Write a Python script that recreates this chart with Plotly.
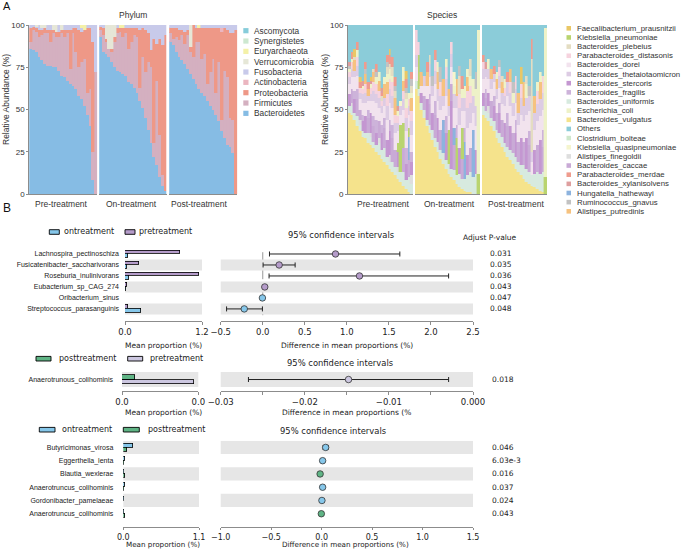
import plotly.graph_objects as go

W, H = 686, 549
def px(x): return x / W
def py(y): return 1 - y / H

# ============================ DATA =====================================
facet_names = ["Pre-treatment", "On-treatment", "Post-treatment"]
sample_idx = list(range(1, 25))  # 24 samples per facet

# ---- Phylum relative abundance (%): Pre(24) + On(24) + Post(24)
phy_bacteroidetes = ([86,85,84,81,79,77,76,76,75,75,73,70,69,67,65,64,62,58,56,52,47,40,8,0]
                     + [93,84,83,81,78,75,73,72,71,70,66,65,63,60,55,51,45,38,30,22,17,10,5,2]
                     + [90,88,84,81,79,77,74,71,68,65,62,60,58,55,52,50,47,43,37,33,29,28,24,0])
phy_firmicutes = ([4,12,12,12,15,18,19,14,20,18,20,25,24,28,9,31,22,17,22,28,13,22,17,72]
                  + [4,10,7,5,6,15,22,24,22,25,20,25,31,33,8,30,27,40,45,8,50,25,6,0]
                  + [5,4,9,10,15,12,20,13,13,25,28,20,25,10,20,30,13,35,7,40,40,17,20,0])
phy_proteobacteria = ([8,2,2,4,3,3,2,7,2,3,3,2,4,2,23,3,14,22,18,17,38,36,65,0]
                      + [2,4,2,0,2,3,3,2,5,3,12,8,4,5,34,17,25,17,10,62,22,57,77,92]
                      + [3,6,5,6,3,7,3,3,19,8,8,18,15,33,26,18,38,20,52,25,28,50,51,97])
phy_actinobacteria = ([0,0,0,0,0,0,0,0,0,0,0,0,0,0,0,0,0,0,0,0,0,0,0,0]
                      + [0,0,0,0,0,0,0,0,0,0,0,0,0,0,0,0,0,0,0,0,0,0,0,0]
                      + [0,0,0,0,0,0,0,0,0,0,0,0,0,0,0,0,0,0,2,0,0,0,0,0])
phy_fusobacteria = ([2,1,1,3,1,0,3,3,0,0,4,0,3,3,3,2,2,3,2,0,2,2,10,28]
                    + [1,2,0,0,0,0,2,0,0,2,2,2,2,2,3,2,3,5,15,8,11,8,12,6]
                    + [2,2,2,3,3,4,3,0,0,2,0,2,2,2,2,2,2,2,2,2,3,5,5,3])
phy_verrucomicrobia = ([0,0,1,0,2,2,0,0,3,4,0,3,0,0,0,0,0,0,0,0,0,0,0,0]
                       + [0,0,8,14,14,7,0,0,0,0,0,0,0,0,0,0,0,0,0,0,0,0,0,0]
                       + [0,0,0,0,0,0,0,13,0,0,0,0,0,0,0,0,0,0,0,0,0,0,0,0])
phy_euryarchaeota = ([0,0,0,0,0,0,0,0,0,0,0,0,0,0,0,0,0,0,2,3,0,0,0,0]
                     + [0,0,0,0,0,0,0,2,2,0,0,0,0,0,0,0,0,0,0,0,0,0,0,0]
                     + [0,0,0,0,0,0,0,0,0,0,2,0,0,0,0,0,0,0,0,0,0,0,0,0])
phy_synergistetes = [0] * 72
phy_ascomycota = [0] * 72

# ---- Species relative abundance (%): Pre(24) + On(24) + Post(24)
sp_vulgatus = ([48,47,44,40,37,34,33,30,29,27,25,23,21,19,17,15,13,11,9,7,5,3,1,0]
               + [62,58,50,45,40,36,32,28,25,21,18,15,12,10,8,6,4,3,2,1,1,0,0,0]
               + [47,45,43,40,37,33,30,28,25,22,20,18,15,13,11,9,7,6,5,4,3,2,1,0])
sp_uniformis = ([4,5,4,6,4,3,3,6,5,4,4,7,5,8,5,4,6,5,4,6,8,5,9,6]
                + [5,4,4,5,4,5,6,5,6,5,6,5,6,5,6,5,8,6,7,10,12,10,12,0]
                + [5,4,5,5,6,5,6,6,5,6,6,6,7,6,6,8,8,7,6,8,10,10,12,0])
sp_finegoldii = ([0,2,0,0,3,0,0,0,2,0,0,3,0,0,0,4,0,0,3,0,0,0,0,5]
                 + [0,0,0,0,0,0,0,0,0,0,0,0,0,0,0,0,0,0,0,0,0,0,0,0]
                 + [0,0,4,0,0,0,0,0,0,0,0,0,0,0,0,0,0,0,0,0,0,0,0,0])
sp_stercoris = ([7,0,8,0,0,6,10,0,12,0,7,0,10,0,10,14,0,0,9,0,0,10,0,8]
                + [0,0,6,0,12,0,10,0,14,0,0,16,0,40,0,0,15,0,0,12,0,0,14,0]
                + [8,0,8,0,9,0,12,0,12,0,14,0,14,0,16,0,18,0,0,14,0,20,0,0])
sp_caccae = ([0,8,0,10,6,0,0,9,0,9,0,10,0,12,0,0,14,10,0,0,14,0,10,0]
             + [0,0,0,8,0,12,0,14,0,12,0,0,0,10,15,0,0,12,0,0,14,0,0,0]
             + [0,8,0,10,0,10,0,10,0,12,0,12,0,12,0,14,0,16,0,0,16,0,15,0])
sp_hathewayi = ([0,0,0,0,0,0,0,0,0,0,0,0,0,0,0,0,0,0,0,0,0,0,14,0]
                + [0,0,0,0,0,0,0,0,0,0,20,0,0,0,10,0,0,0,22,0,0,28,0,0]
                + [0,0,0,0,0,0,0,0,0,0,0,0,0,0,0,0,0,0,0,0,0,0,0,0])
sp_kpneumoniae = ([0,0,0,0,0,0,0,0,0,0,0,0,0,0,0,0,0,0,5,28,15,0,5,0]
                  + [0,20,0,0,0,0,0,0,0,0,0,0,20,0,0,22,0,18,0,0,0,0,0,12]
                  + [0,0,0,0,0,0,0,0,0,0,0,0,0,0,0,0,0,0,0,0,0,0,0,10])
sp_fragilis = ([0,0,5,6,0,4,0,5,0,6,8,0,5,6,0,7,8,0,0,0,0,9,0,6]
               + [0,0,0,0,0,6,0,8,0,0,0,10,0,0,0,8,0,0,8,0,0,0,0,0]
               + [0,5,0,0,6,0,6,0,0,8,0,0,8,0,0,0,0,8,0,0,0,0,10,0])
sp_dorei = ([6,7,8,8,6,7,8,5,7,9,10,8,7,7,12,10,10,10,7,6,8,10,8,10]
            + [8,0,4,6,8,10,10,10,10,12,8,12,8,10,12,10,14,10,10,16,15,10,14,0]
            + [8,7,8,7,8,8,9,9,10,10,12,10,10,10,14,12,14,12,8,12,14,14,12,0])
sp_theta = ([4,5,4,6,4,5,6,3,4,6,5,6,4,5,8,8,7,6,5,5,6,8,5,8]
            + [7,0,0,6,0,8,6,8,7,8,6,10,6,8,8,7,10,8,8,12,12,10,12,0]
            + [6,5,6,6,5,6,7,7,6,8,8,8,8,7,10,9,10,9,6,10,10,10,10,0])
sp_distasonis = ([3,4,0,5,3,3,5,0,4,5,6,4,3,0,7,6,8,5,4,0,5,6,4,6]
                 + [15,8,0,0,0,0,0,6,0,8,0,7,0,7,0,0,8,0,0,10,10,0,0,0]
                 + [4,0,0,0,0,0,5,0,5,0,6,0,8,0,8,0,0,0,0,0,8,0,10,0])
sp_putredinis = ([0,0,6,0,0,0,6,4,0,6,0,6,0,8,7,0,0,10,0,0,6,0,0,8]
                 + [0,0,8,0,8,0,0,0,10,0,10,0,10,0,0,10,0,0,0,8,0,0,0,0]
                 + [0,0,0,6,0,6,0,6,0,0,8,0,0,12,0,14,0,0,0,10,0,10,0,0])
sp_ecoli = ([2,2,0,4,0,2,0,0,2,0,4,5,0,4,5,6,4,0,3,0,8,5,4,3]
            + [0,0,0,0,0,0,0,0,6,0,0,5,0,0,5,0,0,5,7,5,6,10,10,85]
            + [0,0,6,0,0,4,0,0,5,0,0,6,0,0,0,0,8,0,0,0,5,6,0,88])
sp_plebeius = ([0,0,2,0,0,0,0,0,0,2,0,0,3,0,4,3,5,4,0,0,0,4,0,4]
               + [0,0,0,0,0,5,0,0,0,0,0,0,0,0,0,0,11,0,0,0,10,0,0,0]
               + [0,0,0,0,0,0,0,4,0,0,0,0,0,0,0,0,5,0,55,0,0,0,0,0])
sp_gnavus = ([2,0,0,0,0,0,3,0,0,0,3,0,0,0,3,0,0,3,0,0,0,3,0,4]
             + [0,0,0,0,0,0,6,0,0,9,0,0,0,0,0,0,6,0,0,0,0,0,10,0]
             + [0,0,0,0,0,0,4,0,0,0,0,6,0,0,0,0,0,6,0,0,0,0,0,0])
sp_bolteae = [0] * 72
sp_kquasi = ([0,0,0,0,0,0,0,0,0,0,0,0,0,0,0,0,0,0,0,3,0,0,0,0]
             + [0,0,0,0,0,0,0,0,0,0,0,0,0,0,8,0,0,0,0,0,0,0,0,0]
             + [0,0,0,0,0,0,0,0,0,0,0,0,0,0,0,0,0,0,0,0,0,0,0,0])
sp_merdae = ([0,4,0,5,3,0,4,4,0,0,5,0,2,0,4,5,6,5,0,0,0,5,0,4]
             + [0,0,0,0,6,0,0,6,0,0,0,0,0,0,0,0,0,8,0,0,0,0,0,0]
             + [4,0,0,0,5,0,0,0,0,6,0,0,0,0,0,0,0,0,12,0,0,0,0,0])
sp_xylanisolvens = ([2,0,0,0,0,3,0,0,2,0,0,0,3,0,0,0,0,0,3,0,0,0,0,0]
                    + [0,0,0,0,0,0,0,0,0,0,0,0,0,0,0,0,0,0,0,0,0,0,0,0]
                    + [0,4,0,0,0,0,0,0,0,0,0,0,0,0,0,0,0,0,0,0,0,0,0,0])
sp_faecali = ([0,0,5,0,3,0,0,0,2,0,0,0,0,0,0,4,0,0,0,0,0,5,0,0]
              + [0,0,0,0,0,0,0,0,0,0,0,0,0,0,0,0,0,0,0,0,0,0,0,0]
              + [0,0,0,0,0,0,0,0,0,0,0,0,0,0,10,0,0,0,0,0,0,0,0,0])
sp_others = ([22,16,14,10,31,33,22,34,31,26,23,28,37,31,18,14,19,31,48,45,25,27,40,28]
             + [3,10,28,30,22,18,30,15,22,25,32,20,38,10,28,32,24,30,36,26,20,32,28,3]
             + [18,22,20,26,24,28,21,30,32,28,26,34,30,40,25,34,30,36,8,42,34,28,30,2])

# ---- B: STAMP-style comparisons
features_1 = ["Lachnospira_pectinoschiza", "Fusicatenibacter_saccharivorans", "Roseburia_inulinivorans",
              "Eubacterium_sp_CAG_274", "Oribacterium_sinus", "Streptococcus_parasanguinis"]
pre_mean_1 = [0.86, 0.22, 1.15, 0.03, 0.004, 0.05]
on_mean_1 = [0.04, 0.03, 0.07, 0.02, 0.005, 0.25]
diff_1 = [0.865, 0.195, 1.15, 0.024, -0.004, -0.22]
ci_low_1 = [0.08, 0.004, 0.075, 0.014, -0.008, -0.43]
ci_high_1 = [1.63, 0.385, 2.21, 0.034, 0.0, -0.004]
enriched_1 = ["pretreatment", "pretreatment", "pretreatment", "pretreatment", "ontreatment", "ontreatment"]
pval_1 = ["0.031", "0.035", "0.036", "0.043", "0.047", "0.048"]

features_2 = ["Anaerotrunous_colihominis"]
post_mean_2 = [0.00068]
pre_mean_2 = [0.00377]
diff_2 = [-0.0148]
ci_low_2 = [-0.0267]
ci_high_2 = [-0.0029]
pval_2 = ["0.018"]

features_3 = ["Butyricimonas_virosa", "Eggerthella_lenta", "Blautia_wexlerae",
              "Anaerotruncus_colihominis", "Gordonibacter_pamelaeae", "Anaerotruncus_colihominis\u200b"]
on_mean_3 = [0.145, 0.03, 0.01, 0.025, 0.01, 0.02]
post_mean_3 = [0.06, 0.02, 0.035, 0.02, 0.005, 0.03]
diff_3 = [0.04, 0.01, -0.015, 0.01, 0.003, -0.003]
ci_low_3 = [0.015, 0.003, -0.03, 0.002, 0.0, -0.008]
ci_high_3 = [0.065, 0.017, 0.0, 0.018, 0.006, 0.002]
enriched_3 = ["ontreatment", "ontreatment", "posttreatment", "ontreatment", "ontreatment", "posttreatment"]
pval_3 = ["0.046", "6.03e-3", "0.016", "0.037", "0.024", "0.043"]

# ============================ STYLE ====================================
phylum_values = {
    "Bacteroidetes": phy_bacteroidetes, "Firmicutes": phy_firmicutes, "Proteobacteria": phy_proteobacteria,
    "Actinobacteria": phy_actinobacteria, "Fusobacteria": phy_fusobacteria, "Verrucomicrobia": phy_verrucomicrobia,
    "Euryarchaeota": phy_euryarchaeota, "Synergistetes": phy_synergistetes, "Ascomycota": phy_ascomycota,
}
phylum_colors = {
    "Ascomycota": "#86CCDA", "Synergistetes": "#CDE8D0", "Euryarchaeota": "#F4F1A8",
    "Verrucomicrobia": "#E6E7D7", "Fusobacteria": "#C8CAEA", "Actinobacteria": "#EBB6C0",
    "Proteobacteria": "#EE9887", "Firmicutes": "#D4B0C0", "Bacteroidetes": "#86BCE4",
}
phylum_stack = ["Bacteroidetes", "Firmicutes", "Proteobacteria", "Actinobacteria", "Fusobacteria",
                "Verrucomicrobia", "Euryarchaeota", "Synergistetes", "Ascomycota"]
phylum_legend = list(reversed(phylum_stack))

species_values = {
    "Bacteroides_vulgatus": sp_vulgatus, "Bacteroides_uniformis": sp_uniformis,
    "Alistipes_finegoldii": sp_finegoldii, "Bacteroides_stercoris": sp_stercoris,
    "Bacteroides_caccae": sp_caccae, "Hungatella_hathewayi": sp_hathewayi,
    "Klebsiella_pneumoniae": sp_kpneumoniae, "Bacteroides_fragilis": sp_fragilis,
    "Bacteroides_dorei": sp_dorei, "Bacteroides_thetaiotaomicron": sp_theta,
    "Parabacteroides_distasonis": sp_distasonis, "Alistipes_putredinis": sp_putredinis,
    "Escherichia_coli": sp_ecoli, "Bacteroides_plebeius": sp_plebeius,
    "Ruminococcus_gnavus": sp_gnavus, "Clostridium_bolteae": sp_bolteae,
    "Klebsiella_quasipneumoniae": sp_kquasi, "Parabacteroides_merdae": sp_merdae,
    "Bacteroides_xylanisolvens": sp_xylanisolvens, "Faecalibacterium_prausnitzii": sp_faecali,
    "Others": sp_others,
}
species_colors = {
    "Faecalibacterium_prausnitzii": "#E9C766", "Klebsiella_pneumoniae": "#B9D46F",
    "Bacteroides_plebeius": "#E4DDC2", "Parabacteroides_distasonis": "#F6D3DE",
    "Bacteroides_dorei": "#F2E3EE", "Bacteroides_thetaiotaomicron": "#DDCCE4",
    "Bacteroides_stercoris": "#C497D1", "Bacteroides_fragilis": "#CDB3DA",
    "Bacteroides_uniformis": "#D7EADF", "Escherichia_coli": "#EEF2C8",
    "Bacteroides_vulgatus": "#F5E38C", "Others": "#8BCCD9",
    "Clostridium_bolteae": "#CFE8CC", "Klebsiella_quasipneumoniae": "#F5F5CE",
    "Alistipes_finegoldii": "#DEDEDE", "Bacteroides_caccae": "#C9AAD6",
    "Parabacteroides_merdae": "#EF9C8E", "Bacteroides_xylanisolvens": "#DE9F9F",
    "Hungatella_hathewayi": "#8DB3DE", "Ruminococcus_gnavus": "#C2C2C2",
    "Alistipes_putredinis": "#F6C27F",
}
species_stack = ["Bacteroides_vulgatus", "Bacteroides_uniformis", "Alistipes_finegoldii",
                 "Bacteroides_stercoris", "Bacteroides_caccae", "Hungatella_hathewayi",
                 "Klebsiella_pneumoniae", "Bacteroides_fragilis", "Bacteroides_dorei",
                 "Bacteroides_thetaiotaomicron", "Parabacteroides_distasonis", "Alistipes_putredinis",
                 "Escherichia_coli", "Bacteroides_plebeius", "Ruminococcus_gnavus",
                 "Clostridium_bolteae", "Klebsiella_quasipneumoniae", "Parabacteroides_merdae",
                 "Bacteroides_xylanisolvens", "Faecalibacterium_prausnitzii", "Others"]
species_legend = ["Faecalibacterium_prausnitzii", "Klebsiella_pneumoniae", "Bacteroides_plebeius",
                  "Parabacteroides_distasonis", "Bacteroides_dorei", "Bacteroides_thetaiotaomicron",
                  "Bacteroides_stercoris", "Bacteroides_fragilis", "Bacteroides_uniformis",
                  "Escherichia_coli", "Bacteroides_vulgatus", "Others", "Clostridium_bolteae",
                  "Klebsiella_quasipneumoniae", "Alistipes_finegoldii", "Bacteroides_caccae",
                  "Parabacteroides_merdae", "Bacteroides_xylanisolvens", "Hungatella_hathewayi",
                  "Ruminococcus_gnavus", "Alistipes_putredinis"]

col_on = "#86C7EA"
col_pre1 = "#B59CCA"
col_pre2 = "#CCC7E0"
col_post = "#5FB485"
group_col_1 = {"pretreatment": col_pre1, "ontreatment": col_on}
group_col_3 = {"ontreatment": col_on, "posttreatment": col_post}

SANS = "Liberation Sans"
DJV = "DejaVu Sans"
AX = "#8c8c8c"
TXT = "#222222"

fig = go.Figure()

# ---------------- A: stacked bars ----------------
for f in range(3):
    s = slice(f * 24, (f + 1) * 24)
    for name in phylum_stack:
        c = phylum_colors[name]
        fig.add_trace(go.Bar(x=sample_idx, y=phylum_values[name][s], name=name,
                             marker=dict(color=c, line=dict(width=0.4, color=c)),
                             xaxis=["x", "x2", "x3"][f], yaxis="y", showlegend=False, hoverinfo="skip"))
    for name in species_stack:
        c = species_colors[name]
        fig.add_trace(go.Bar(x=sample_idx, y=species_values[name][s], name=name,
                             marker=dict(color=c, line=dict(width=0.4, color=c)),
                             xaxis=["x4", "x5", "x6"][f], yaxis="y2", showlegend=False, hoverinfo="skip"))

# ---------------- B: panel 1 ----------------
bar_line = dict(color="black", width=0.8)
fig.add_trace(go.Bar(y=features_1, x=pre_mean_1, orientation="h", xaxis="x7", yaxis="y3",
                     offset=-0.36, width=0.36, marker=dict(color=col_pre1, line=bar_line), showlegend=False))
fig.add_trace(go.Bar(y=features_1, x=on_mean_1, orientation="h", xaxis="x7", yaxis="y4",
                     offset=0.0, width=0.36, marker=dict(color=col_on, line=bar_line), showlegend=False))
fig.add_trace(go.Scatter(x=diff_1, y=features_1, mode="markers", xaxis="x8", yaxis="y3", showlegend=False,
                         marker=dict(size=6.5, color=[group_col_1[g] for g in enriched_1],
                                     line=dict(color="#333", width=0.8)),
                         error_x=dict(type="data", symmetric=False,
                                      array=[h - d for h, d in zip(ci_high_1, diff_1)],
                                      arrayminus=[d - l for d, l in zip(diff_1, ci_low_1)],
                                      color="#222", thickness=1, width=2.5)))

# ---------------- B: panel 2 ----------------
fig.add_trace(go.Bar(y=features_2, x=post_mean_2, orientation="h", xaxis="x9", yaxis="y5",
                     offset=-0.27, width=0.27, marker=dict(color=col_post, line=bar_line), showlegend=False))
fig.add_trace(go.Bar(y=features_2, x=pre_mean_2, orientation="h", xaxis="x9", yaxis="y6",
                     offset=0.0, width=0.27, marker=dict(color=col_pre2, line=bar_line), showlegend=False))
fig.add_trace(go.Scatter(x=diff_2, y=features_2, mode="markers", xaxis="x10", yaxis="y5", showlegend=False,
                         marker=dict(size=6.5, color=col_pre2, line=dict(color="#333", width=0.8)),
                         error_x=dict(type="data", symmetric=False,
                                      array=[h - d for h, d in zip(ci_high_2, diff_2)],
                                      arrayminus=[d - l for d, l in zip(diff_2, ci_low_2)],
                                      color="#222", thickness=1, width=2.5)))

# ---------------- B: panel 3 ----------------
fig.add_trace(go.Bar(y=features_3, x=on_mean_3, orientation="h", xaxis="x11", yaxis="y7",
                     offset=-0.3, width=0.3, marker=dict(color=col_on, line=bar_line), showlegend=False))
fig.add_trace(go.Bar(y=features_3, x=post_mean_3, orientation="h", xaxis="x11", yaxis="y8",
                     offset=0.0, width=0.3, marker=dict(color=col_post, line=bar_line), showlegend=False))
fig.add_trace(go.Scatter(x=diff_3, y=features_3, mode="markers", xaxis="x12", yaxis="y7", showlegend=False,
                         marker=dict(size=6.5, color=[group_col_3[g] for g in enriched_3],
                                     line=dict(color="#333", width=0.8)),
                         error_x=dict(type="data", symmetric=False,
                                      array=[h - d for h, d in zip(ci_high_3, diff_3)],
                                      arrayminus=[d - l for d, l in zip(diff_3, ci_low_3)],
                                      color="#222", thickness=1, width=2.5)))

# ============================ AXES =====================================
def top_x(a, b, anchor):
    return dict(domain=[px(a), px(b)], anchor=anchor, range=[0.5, 24.5], showticklabels=False,
                ticks="", showline=True, linecolor=AX, linewidth=1, showgrid=False, zeroline=False,
                automargin=False)

def top_y(anchor):
    return dict(domain=[py(194), py(25)], anchor=anchor, range=[0, 100], tickvals=[0, 25, 50, 75, 100],
                ticks="outside", ticklen=2, tickcolor=AX, showline=True, linecolor=AX, linewidth=1,
                tickfont=dict(family=SANS, size=8, color="#333"), showgrid=False, zeroline=False,
                automargin=False)

def b_x(a, b, anchor, rng, tickvals, ticktext, ticklen=3, fsize=8.5):
    return dict(domain=[px(a), px(b)], anchor=anchor, range=rng, tickvals=tickvals, ticktext=ticktext,
                showline=True, linecolor=AX, linewidth=1, ticks="outside", ticklen=ticklen, tickcolor=AX,
                tickfont=dict(family=DJV, size=fsize, color=TXT), showgrid=False, zeroline=False,
                automargin=False)

def b_y(top, bottom, anchor, cats, rng, standoff):
    return dict(domain=[py(bottom), py(top)], anchor=anchor, type="category", categoryorder="array",
                categoryarray=cats, range=rng, showline=False, ticks="", ticklabelstandoff=standoff,
                tickfont=dict(family=SANS, size=7, color=TXT), showgrid=False, zeroline=False,
                automargin=False)

def b_y_over(base, anchor, cats, rng):
    return dict(overlaying=base, anchor=anchor, type="category", categoryorder="array",
                categoryarray=cats, range=rng, visible=False, automargin=False)

r1 = [6.1, -0.5]
r2 = [0.73, -0.5]
r3 = [6.0, -0.5]
ticks_r1 = [-0.5, 0.0, 0.5, 1.0, 1.5, 2.0, 2.5]
ticks_r3 = [-1.0, -0.5, 0.0, 0.5, 1.0, 1.5]
def fmt1(v):
    return "\u2212" + f"{abs(v):.1f}" if v < 0 else f"{v:.1f}"

layout_axes = dict(
    xaxis=top_x(29.3, 97.3, "y"), xaxis2=top_x(99.3, 166.7, "y"), xaxis3=top_x(169.3, 237.3, "y"),
    yaxis=top_y("x"),
    xaxis4=top_x(348, 413, "y2"), xaxis5=top_x(415, 480, "y2"), xaxis6=top_x(482, 547, "y2"),
    yaxis2=top_y("x4"),
    xaxis7=b_x(125, 202, "y3", [0, 1.2], [0, 1.2], ["0.0", "1.2"]),
    xaxis8=b_x(220.7, 473, "y3", [-0.5, 2.5], ticks_r1, [fmt1(v) for v in ticks_r1]),
    yaxis3=b_y(248.5, 321, "x7", features_1, r1, 5),
    yaxis4=b_y_over("y3", "x7", features_1, r1),
    xaxis9=b_x(122, 198.3, "y5", [0, 0.004], [0, 0.004], ["0.0", "0.0"]),
    xaxis10=b_x(220.7, 473, "y5", [-0.03, 0.0],
                [-0.03, -0.025, -0.02, -0.015, -0.01, -0.005, 0.0],
                ["\u22120.03", "", "\u22120.02", "", "\u22120.01", "", "0.000"]),
    yaxis5=b_y(372, 390.5, "x9", features_2, r2, 8),
    yaxis6=b_y_over("y5", "x9", features_2, r2),
    xaxis11=b_x(123.3, 199, "y7", [0, 1.1], [0, 1.1], ["0.0", "1.1"], ticklen=2, fsize=8),
    xaxis12=b_x(220.7, 473, "y7", [-1.0, 1.5], ticks_r3, [fmt1(v) for v in ticks_r3], ticklen=2, fsize=8),
    yaxis7=b_y(440.8, 527, "x11", features_3, r3, 9),
    yaxis8=b_y_over("y7", "x11", features_3, r3),
)

# ============================ SHAPES / TEXT ============================
shapes = []
annotations = []

def text(t, x, y, size, family=SANS, xanchor="center", color=TXT, angle=0, yref="paper", yval=None):
    annotations.append(dict(text=t, x=px(x), y=py(y) if yval is None else yval,
                            xref="paper", yref=yref, showarrow=False, xanchor=xanchor, yanchor="middle",
                            textangle=angle, borderpad=0,
                            font=dict(family=family, size=size, color=color)))

# A labels
text("A", 2, 6, 11, xanchor="left", color="#111")
text("Phylum", 133, 15, 8.5, color="#333")
text("Species", 442, 15, 8.5, color="#333")
text("Relative Abundance (%)", 6, 100, 8.5, angle=-90, color="#333")
text("Relative Abundance (%)", 325, 100, 8.5, angle=-90, color="#333")
for name, xc in zip(facet_names, [61, 131.7, 199.3]):
    text(name, xc, 203.5, 8.5, color="#333")
for name, xc in zip(facet_names, [383.5, 449, 515.5]):
    text(name, xc, 204, 8.5, color="#333")

for i, name in enumerate(phylum_legend):
    yc = 30.7 + 10.33 * i
    shapes.append(dict(type="rect", xref="paper", yref="paper", x0=px(243.3), x1=px(248.5),
                       y0=py(yc + 2.6), y1=py(yc - 2.6), fillcolor=phylum_colors[name], line=dict(width=0)))
    text(name, 252.5, yc, 8.3, xanchor="left", color="#333")

for i, name in enumerate(species_legend):
    yc = 28.3 + 9.15 * i
    shapes.append(dict(type="rect", xref="paper", yref="paper", x0=px(566.5), x1=px(571),
                       y0=py(yc + 2.3), y1=py(yc - 2.3), fillcolor=species_colors[name], line=dict(width=0)))
    text(name, 576.3, yc, 7.8, xanchor="left", color="#333")

# B labels
text("B", 2, 208, 12, xanchor="left", color="#111")

def legend_key(x0, x1, yc, color, label, lx):
    shapes.append(dict(type="rect", xref="paper", yref="paper", x0=px(x0), x1=px(x1),
                       y0=py(yc + 2.3), y1=py(yc - 2.3), fillcolor=color, line=dict(color="black", width=0.9)))
    text(label, lx, yc, 8, family=DJV, xanchor="left")

legend_key(49.3, 59.3, 232, col_on, "ontreatment", 62.7)
legend_key(125, 135, 232, col_pre1, "pretreatment", 138.3)
legend_key(36, 51, 358.7, col_post, "posttreatment", 57.7)
legend_key(127.7, 142.7, 358.7, col_pre2, "pretreatment", 149.3)
legend_key(39.3, 55, 429.7, col_on, "ontreatment", 60.7)
legend_key(123.3, 139.3, 429.7, col_post, "posttreatment", 146.7)

text("95% confidence intervals", 341, 235, 8.4, family=DJV)
text("95% confidence intervals", 339.5, 363, 8.4, family=DJV)
text("95% confidence intervals", 332.5, 430.7, 8.4, family=DJV)
text("Adjust P-value", 490, 237, 7.5, family=DJV)

text("Mean proportion (%)", 163, 345, 7.5, family=DJV)
text("Difference in mean proportions (%)", 347, 345, 7.5, family=DJV)
text("Mean proportion (%)", 163, 412.7, 7.5, family=DJV)
text("Difference in mean proportions (%", 346, 412.7, 7.5, family=DJV)
text("Mean proportion (%)", 162.5, 544.8, 7.2, family=DJV)
text("Difference in mean proportions (%)", 345.5, 544.8, 7.2, family=DJV)

for feat, p in zip(features_1, pval_1):
    text(p, 488.7, 0, 7.5, family=DJV, xanchor="left", yref="y3", yval=feat)
for feat, p in zip(features_2, pval_2):
    text(p, 491, 0, 7.5, family=DJV, xanchor="left", yref="y5", yval=feat)
for feat, p in zip(features_3, pval_3):
    text(p, 491, 0, 7.5, family=DJV, xanchor="left", yref="y7", yval=feat)

# zero reference line (panel 1), then alternating row bands
shapes.append(dict(type="line", xref="x8", yref="y3 domain", x0=0, x1=0, y0=0.08, y1=1,
                   line=dict(color="#999", width=1, dash="dash"), layer="below"))
BAND = "#E6E6E6"
def bands(xdom_list, yref, n, start):
    for i in range(start, n, 2):
        for xd in xdom_list:
            shapes.append(dict(type="rect", xref=xd, yref=yref, x0=0, x1=1, y0=i - 0.5, y1=i + 0.5,
                               fillcolor=BAND, line=dict(width=0), layer="below"))
bands(["x7 domain", "x8 domain"], "y3", len(features_1), 1)
bands(["x9 domain", "x10 domain"], "y5", len(features_2), 0)
bands(["x11 domain", "x12 domain"], "y7", len(features_3), 0)

fig.update_layout(
    template="none",
    width=W, height=H, autosize=False,
    margin=dict(l=0, r=0, t=0, b=0, pad=0),
    paper_bgcolor="white", plot_bgcolor="white",
    barmode="stack", bargap=0,
    font=dict(family=SANS, size=8, color=TXT),
    shapes=shapes, annotations=annotations,
    showlegend=False,
    **layout_axes,
)

fig.write_html("out.html", config={"responsive": False, "displayModeBar": False},
               post_script="document.body.style.margin='0px';document.body.style.padding='0px';")
